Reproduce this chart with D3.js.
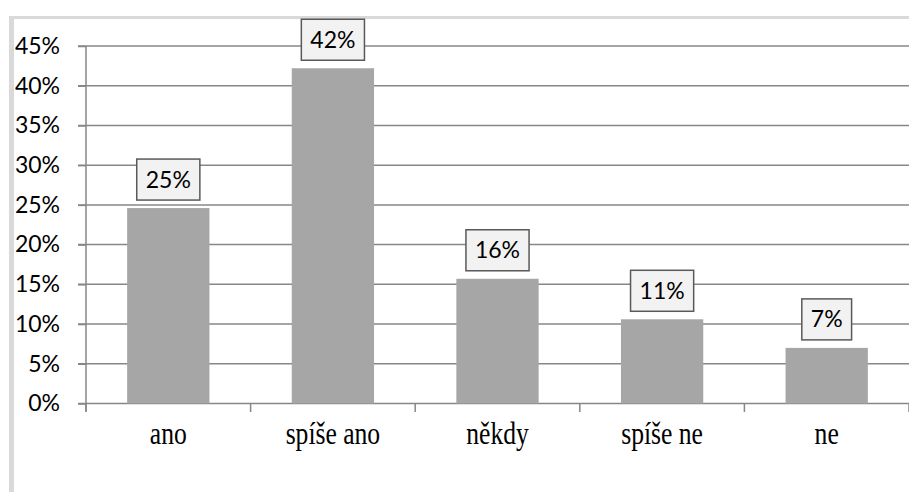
<!DOCTYPE html>
<html>
<head>
<meta charset="utf-8">
<script src="https://cdn.jsdelivr.net/npm/d3@7"></script>
<style>
  html, body { margin: 0; padding: 0; background: #ffffff; }
  svg { display: block; }
</style>
</head>
<body>
<svg id="chart" width="909" height="492"></svg>
<script>
// Answers to the survey question (share of respondents, %)
const categories = ["ano", "spíše ano", "někdy", "spíše ne", "ne"];
const shares = [24.6, 42.2, 15.7, 10.6, 7.0];
const yTicks = [0, 5, 10, 15, 20, 25, 30, 35, 40, 45];

const W = 909, H = 492;
const plot = { left: 86, right: 909, top: 46, bottom: 403.5 };

const svg = d3.select("#chart");

// Chart frame
svg.append("rect").attr("x", 0).attr("y", 0).attr("width", W).attr("height", H).attr("fill", "#ffffff");
svg.append("line").attr("x1", 9).attr("x2", W).attr("y1", 17.5).attr("y2", 17.5)
  .attr("stroke", "#d9d9d9").attr("stroke-width", 3);
svg.append("line").attr("x1", 11.5).attr("x2", 11.5).attr("y1", 16).attr("y2", H)
  .attr("stroke", "#d9d9d9").attr("stroke-width", 5);

const x = d3.scaleBand()
  .domain(categories)
  .range([plot.left, plot.right])
  .paddingInner(0.5)
  .paddingOuter(0.25);

const y = d3.scaleLinear()
  .domain([0, 45])
  .range([plot.bottom, plot.top]);

// Horizontal gridlines
svg.append("g")
  .selectAll("line")
  .data(yTicks)
  .join("line")
  .attr("x1", plot.left - 8)
  .attr("x2", plot.right)
  .attr("y1", d => y(d))
  .attr("y2", d => y(d))
  .attr("stroke", "#878787")
  .attr("stroke-width", 1.5);

// Y axis with percentage labels
const yAxis = svg.append("g")
  .attr("transform", `translate(${plot.left},0)`)
  .call(d3.axisLeft(y).tickValues(yTicks).tickSize(8).tickPadding(18).tickFormat(d => d + "%"));
yAxis.select(".domain").attr("stroke", "#878787").attr("stroke-width", 1.5)
  .attr("d", `M0,${plot.top}V${plot.bottom + 8}`);
yAxis.selectAll(".tick line").attr("stroke", "#878787").attr("stroke-width", 1.5);
yAxis.selectAll(".tick text")
  .attr("fill", "#000000")
  .style("font-family", "Lato, 'Open Sans', sans-serif")
  .style("font-size", "23px");

// Category separators below the baseline
const boundaries = d3.range(categories.length + 1).map(i => plot.left + i * x.step());
svg.append("g")
  .selectAll("line")
  .data(boundaries)
  .join("line")
  .attr("x1", d => d).attr("x2", d => d)
  .attr("y1", plot.bottom).attr("y2", plot.bottom + 8.5)
  .attr("stroke", "#878787").attr("stroke-width", 1.5);

// Bars
svg.append("g")
  .selectAll("rect")
  .data(categories.map((c, i) => ({ c, v: shares[i] })))
  .join("rect")
  .attr("x", d => x(d.c))
  .attr("width", x.bandwidth())
  .attr("y", d => y(d.v))
  .attr("height", d => y(0) - y(d.v))
  .attr("fill", "#a6a6a6");

// Value labels in boxes above bars
const labels = svg.append("g")
  .selectAll("g")
  .data(categories.map((c, i) => ({ c, v: shares[i] })))
  .join("g")
  .attr("transform", d => `translate(${x(d.c) + x.bandwidth() / 2},${y(d.v) - 8})`);

labels.each(function (d) {
  const g = d3.select(this);
  const t = g.append("text")
    .attr("text-anchor", "middle")
    .attr("y", -12.5)
    .style("font-family", "Lato, 'Open Sans', sans-serif")
    .style("font-size", "23px")
    .attr("fill", "#000000")
    .text(Math.round(d.v) + "%");
  const w = t.node().getComputedTextLength() + 18;
  g.insert("rect", "text")
    .attr("x", -w / 2)
    .attr("y", -41)
    .attr("width", w)
    .attr("height", 41)
    .attr("fill", "#f2f2f2")
    .attr("stroke", "#595959")
    .attr("stroke-width", 1.5);
});

// Category labels
svg.append("g")
  .selectAll("text")
  .data(categories)
  .join("text")
  .attr("transform", d => `translate(${x(d) + x.bandwidth() / 2},444) scale(0.8,1)`)
  .attr("text-anchor", "middle")
  .style("font-family", "'Liberation Serif', 'Times New Roman', serif")
  .style("font-size", "32px")
  .attr("fill", "#000000")
  .text(d => d);
</script>
</body>
</html>
